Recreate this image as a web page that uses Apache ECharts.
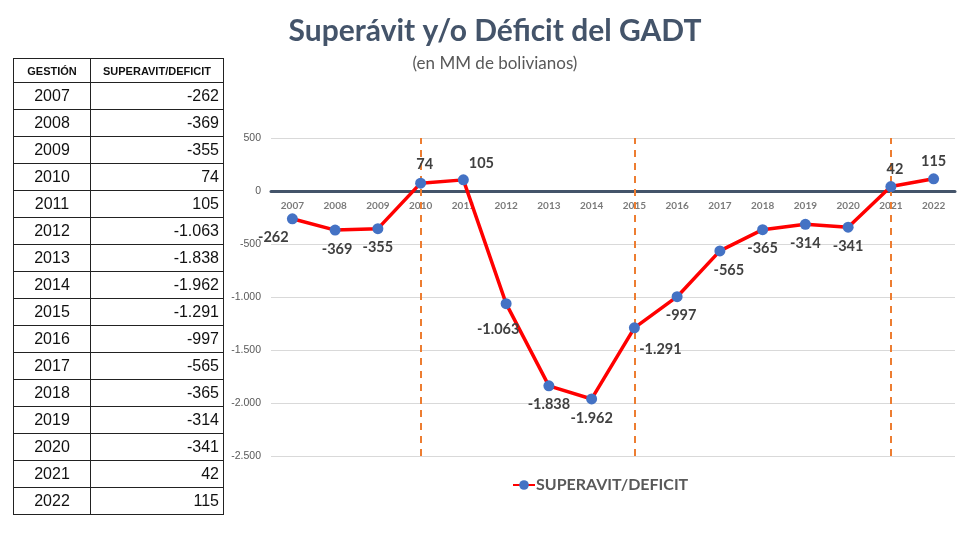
<!DOCTYPE html>
<html>
<head>
<meta charset="utf-8">
<script src="https://cdn.jsdelivr.net/npm/echarts@6/dist/echarts.min.js"></script>
<style>
  html, body { margin: 0; padding: 0; background: #fff; }
  #main { width: 980px; height: 552px; position: absolute; left: 0; top: 0; }
  #tabla { position: absolute; left: 13px; top: 58px; border-collapse: collapse;
           font-family: "Liberation Sans", Arial, sans-serif; color: #111; }
  #tabla td, #tabla th { border: 1px solid #222; padding: 0 4px; }
  #tabla th { font-size: 11px; font-weight: bold; height: 23px; }
  #tabla td { font-size: 16px; height: 26px; }
  #tabla td.anio { width: 68px; text-align: center; }
  #tabla td.val { width: 124px; text-align: right; }
</style>
</head>
<body>
<div id="main"></div>
<table id="tabla"></table>
<script>
// datos del grafico
var gestiones = ['2007','2008','2009','2010','2011','2012','2013','2014','2015','2016','2017','2018','2019','2020','2021','2022'];
var superavit = [-262, -369, -355, 74, 105, -1063, -1838, -1962, -1291, -997, -565, -365, -314, -341, 42, 115];
var marcas = ['2010', '2015', '2021'];

// formato con punto de miles
function fmt(v){
    var s = Math.abs(v).toString();
    var out = '';
    while (s.length > 3) {
        out = '.' + s.substring(s.length - 3) + out;
        s = s.substring(0, s.length - 3);
    }
    out = s + out;
    return (v < 0 ? '-' : '') + out;
}

// tabla de la izquierda
var html = '<tr><th>GESTIÓN</th><th>SUPERAVIT/DEFICIT</th></tr>';
for (var i = 0; i < gestiones.length; i++) {
    html += '<tr><td class="anio">' + gestiones[i] + '</td><td class="val">' + fmt(superavit[i]) + '</td></tr>';
}
document.getElementById('tabla').innerHTML = html;

// donde va cada etiqueta (position, offset)
var posEtq = [
    ['bottom', [-19, 0]], ['bottom', [2, 0]], ['bottom', [0, 0]], ['top', [4, 0]],
    ['top', [18, 2]], ['bottom', [-8, 7]], ['bottom', [0, 0]], ['bottom', [0, 0]],
    ['bottom', [26, 2]], ['bottom', [4, 0]], ['bottom', [9, 0]], ['bottom', [0, 0]],
    ['bottom', [0, 0]], ['bottom', [0, 0]], ['top', [4, 2]], ['top', [0, 2]]
];

var datos = [];
for (var j = 0; j < superavit.length; j++) {
    datos.push({
        value: superavit[j],
        label: { position: posEtq[j][0], offset: posEtq[j][1] }
    });
}

// etiquetas de los años pegadas a la linea del cero
var ejeAnios = [];
for (var m = 0; m < gestiones.length; m++) {
    ejeAnios.push([gestiones[m], 0]);
}

var lineas = [];
for (var k = 0; k < marcas.length; k++) {
    lineas.push({ xAxis: marcas[k] });
}

var option = {
    animation: false,
    title: {
        text: 'Superávit y/o Déficit del GADT',
        subtext: '(en MM de bolivianos)',
        left: 490, textAlign: 'center', top: 11, itemGap: 9,
        textStyle: { fontFamily: 'Lato', fontWeight: 'bold', fontSize: 30, color: '#44546a' },
        subtextStyle: { fontFamily: 'Lato', fontSize: 17, color: '#595959' }
    },
    legend: {
        data: ['SUPERAVIT/DEFICIT'],
        left: 507, top: 472,
        itemWidth: 22, itemHeight: 12, itemGap: 4,
        textStyle: { fontFamily: 'Lato', fontWeight: 'bold', fontSize: 16, color: '#595959', padding: [0, 0, 0, -4] }
    },
    grid: { left: 271, right: 25, top: 138, bottom: 96 },
    xAxis: {
        type: 'category',
        data: gestiones,
        axisLine: { onZero: true, lineStyle: { color: '#44546a', width: 3 } },
        axisTick: { show: false },
        axisLabel: { show: false }
    },
    yAxis: {
        type: 'value',
        min: -2500, max: 500, interval: 500,
        axisLine: { show: false },
        axisTick: { show: false },
        axisLabel: {
            fontFamily: 'Liberation Sans', fontSize: 10.5, color: '#595959', margin: 10,
            formatter: function (v) { return fmt(v); }
        },
        splitLine: { lineStyle: { color: '#d9d9d9' } }
    },
    series: [{
        name: 'ejeAnios',
        type: 'scatter',
        data: ejeAnios,
        symbolSize: 0,
        silent: true,
        z: 1,
        label: {
            show: true, position: 'bottom', distance: 10,
            fontFamily: 'Lato', fontWeight: 'bold', fontSize: 10, color: '#595959',
            formatter: function (p) { return p.value[0]; }
        }
    }, {
        name: 'SUPERAVIT/DEFICIT',
        type: 'line',
        data: datos,
        z: 3,
        symbol: 'circle',
        symbolSize: 11,
        itemStyle: { color: '#4472c4' },
        lineStyle: { color: '#ff0000', width: 3.5 },
        label: {
            show: true, distance: 6,
            fontFamily: 'Lato', fontWeight: 'bold', fontSize: 14.5, color: '#404040',
            formatter: function (p) { return fmt(p.value); }
        },
        markLine: {
            silent: true,
            symbol: 'none',
            z: 2,
            label: { show: false },
            lineStyle: { color: '#ed7d31', type: [7, 6], width: 2 },
            data: lineas
        }
    }]
};

var chart = echarts.init(document.getElementById('main'));
chart.setOption(option);
</script>
</body>
</html>
